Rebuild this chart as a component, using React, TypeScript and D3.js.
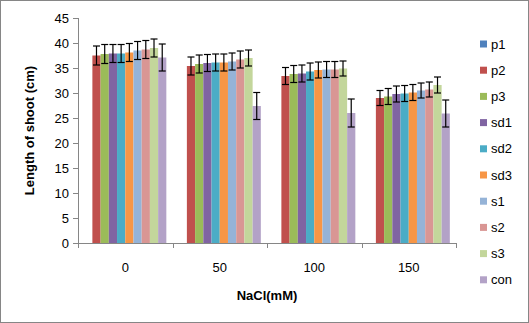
import React from "react";
import * as d3 from "d3";

const categories = ["0", "50", "100", "150"];
const seriesNames = ["p1", "p2", "p3", "sd1", "sd2", "sd3", "s1", "s2", "s3", "con"];
const seriesColors = ["#4F81BD", "#C0504D", "#9BBB59", "#8064A2", "#4BACC6", "#F79646", "#95B3D7", "#D99694", "#C3D69B", "#B3A2C7"];
// values[series][category]
const values = [
  [0, 0, 0, 0],
  [37.5, 35.4, 33.4, 29.0],
  [37.8, 35.8, 33.8, 29.3],
  [37.9, 36.0, 33.9, 29.8],
  [37.9, 36.1, 34.3, 29.9],
  [38.1, 36.1, 34.6, 30.1],
  [38.5, 36.3, 34.7, 30.5],
  [38.7, 36.7, 34.7, 30.7],
  [39.0, 37.0, 34.9, 31.6],
  [37.1, 27.4, 26.0, 25.9],
];
const errors = [
  [0, 0, 0, 0],
  [1.9, 1.8, 1.7, 1.5],
  [1.9, 1.8, 1.7, 1.6],
  [1.8, 1.7, 1.7, 1.6],
  [1.8, 1.7, 1.7, 1.6],
  [1.8, 1.7, 1.6, 1.6],
  [1.8, 1.7, 1.6, 1.5],
  [1.8, 1.7, 1.6, 1.5],
  [1.8, 1.6, 1.5, 1.6],
  [2.7, 2.7, 2.8, 2.7],
];
const yTicks = [0, 5, 10, 15, 20, 25, 30, 35, 40, 45];

const W = 529, H = 323;
const left = 78, right = 456, top = 18, bottom = 243;
const font = "'Liberation Sans', Arial, sans-serif";

export default function App() {
  const x0 = d3.scaleBand().domain(categories).range([left, right]).paddingInner(0).paddingOuter(0);
  const cw = x0.bandwidth();
  const barW = cw / 11.5;
  const groupW = barW * 10;
  const y = d3.scaleLinear().domain([0, 45]).range([bottom, top]);
  const x1 = d3.scaleBand().domain(seriesNames).range([0, groupW]).padding(0);

  return (
    <svg width={W} height={H} style={{ position: "absolute", left: 0, top: 0, background: "#fff" }}>
      <rect x={0.5} y={0.5} width={W - 1} height={H - 1} fill="#fff" stroke="#868686" strokeWidth={1} />
      {/* bars */}
      {categories.map((c, ci) => {
        const gx = (x0(c) as number) + (cw - groupW) / 2;
        return (
          <g key={c}>
            {seriesNames.map((s, si) => {
              const v = values[si][ci];
              if (v <= 0) return null;
              const bx = gx + (x1(s) as number);
              return (
                <rect key={s} x={bx} y={y(v)} width={x1.bandwidth()} height={y(0) - y(v)} fill={seriesColors[si]} />
              );
            })}
          </g>
        );
      })}
      {/* error bars */}
      {categories.map((c, ci) => {
        const gx = (x0(c) as number) + (cw - groupW) / 2;
        return (
          <g key={"e" + c} stroke="#000" strokeWidth={1.2}>
            {seriesNames.map((s, si) => {
              const v = values[si][ci];
              const e = errors[si][ci];
              if (v <= 0) return null;
              const cx = gx + (x1(s) as number) + x1.bandwidth() / 2;
              return (
                <g key={s}>
                  <line x1={cx} x2={cx} y1={y(v + e)} y2={y(v - e)} />
                  <line x1={cx - 3.5} x2={cx + 3.5} y1={y(v + e)} y2={y(v + e)} />
                  <line x1={cx - 3.5} x2={cx + 3.5} y1={y(v - e)} y2={y(v - e)} />
                </g>
              );
            })}
          </g>
        );
      })}
      {/* y axis */}
      <line x1={left + 0.5} x2={left + 0.5} y1={top} y2={bottom} stroke="#868686" />
      {yTicks.map((t) => (
        <g key={t}>
          <line x1={left - 5} x2={left} y1={Math.round(y(t)) + 0.5} y2={Math.round(y(t)) + 0.5} stroke="#868686" />
          <text x={left - 9} y={y(t)} dy="0.35em" textAnchor="end" fontFamily={font} fontSize={13} fill="#000">{t}</text>
        </g>
      ))}
      {/* x axis */}
      <line x1={left} x2={right} y1={bottom + 0.5} y2={bottom + 0.5} stroke="#868686" />
      {[...categories.map((c) => x0(c) as number), right].map((xx, i) => (
        <line key={i} x1={Math.round(xx) + 0.5} x2={Math.round(xx) + 0.5} y1={bottom} y2={bottom + 5} stroke="#868686" />
      ))}
      {categories.map((c) => (
        <text key={c} x={(x0(c) as number) + cw / 2} y={272} textAnchor="middle" fontFamily={font} fontSize={13} fill="#000">{c}</text>
      ))}
      <text x={(left + right) / 2} y={300} textAnchor="middle" fontFamily={font} fontSize={13} fontWeight="bold" fill="#000">NaCl(mM)</text>
      <text transform={`translate(34,${(top + bottom) / 2}) rotate(-90)`} textAnchor="middle" fontFamily={font} fontSize={13} fontWeight="bold" fill="#000">Length of shoot (cm)</text>
      {/* legend */}
      {seriesNames.map((s, i) => {
        const ly = 44 + i * 26.2;
        return (
          <g key={s}>
            <rect x={480} y={ly - 3.5} width={7} height={7} fill={seriesColors[i]} />
            <text x={491} y={ly} dy="0.35em" fontFamily={font} fontSize={13} fill="#000">{s}</text>
          </g>
        );
      })}
    </svg>
  );
}
